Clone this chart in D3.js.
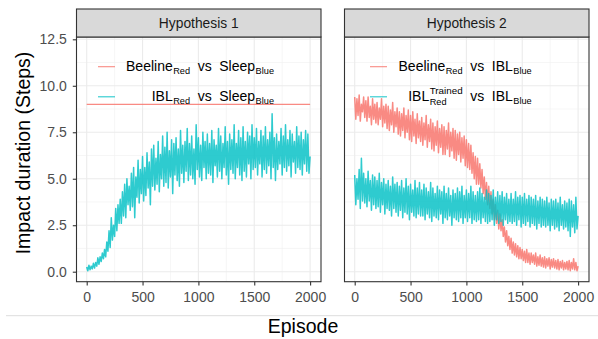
<!DOCTYPE html>
<html>
<head>
<meta charset="utf-8">
<script src="https://cdn.jsdelivr.net/npm/d3@7"></script>
<style>
  html, body { margin: 0; padding: 0; background: #ffffff; }
  svg { display: block; font-family: "Liberation Sans", Arial, Helvetica, sans-serif; }
</style>
</head>
<body>
<svg id="chart" width="598" height="339"></svg>
<script>
// ---------------- DATA ----------------
const panels = ["Hypothesis 1", "Hypothesis 2"];
const xTicks = [0, 500, 1000, 1500, 2000];
const yTicks = [0, 2.5, 5, 7.5, 10, 12.5];
const yTickLabels = ["0.0", "2.5", "5.0", "7.5", "10.0", "12.5"];
const episodes = d3.range(0, 2001, 10);

// Hypothesis 1: Beeline_Red vs Sleep_Blue (constant)
const h1BeelineEpisodes = [0, 2000];
const h1BeelineValues = [9.0, 9.0];

// Hypothesis 1: IBL_Red vs Sleep_Blue
const h1IblValues = [
  0.25, 0.05, 0.35, 0.1, 0.3, 0.15, 0.45, 0.2, 0.5, 0.3,
  0.75, 0.4, 0.8, 0.55, 1.0, 0.7, 1.2, 0.8, 1.6, 1.1,
  2.2, 1.3, 2.9, 1.7, 2.5, 1.9, 3.4, 2.2, 3.6, 2.6,
  3.9, 2.6, 4.3, 3.0, 4.7, 2.9, 5.0, 3.6, 4.6, 3.3,
  5.3, 3.5, 5.6, 2.9, 5.1, 4.0, 6.0, 3.7, 5.5, 4.2,
  6.2, 3.8, 5.6, 4.1, 6.4, 4.5, 5.9, 3.6, 6.6, 4.6,
  6.8, 4.4, 6.1, 4.7, 7.0, 4.3, 6.3, 5.0, 7.3, 4.6,
  6.7, 4.8, 7.5, 4.5, 6.5, 5.1, 7.1, 4.2, 6.9, 5.2,
  7.2, 4.9, 6.6, 4.6, 7.6, 5.3, 6.8, 4.8, 7.0, 5.4,
  7.7, 4.9, 6.9, 5.2, 7.3, 5.0, 6.6, 4.7, 7.9, 5.5,
  7.2, 5.1, 6.8, 4.9, 7.5, 5.6, 7.0, 5.0, 7.4, 5.3,
  6.9, 5.2, 7.6, 4.8, 7.1, 5.7, 6.8, 5.1, 7.7, 5.4,
  7.3, 5.0, 6.9, 5.6, 7.8, 5.2, 7.0, 4.7, 7.4, 5.5,
  7.1, 5.3, 7.9, 5.0, 6.9, 5.6, 7.6, 5.2, 7.2, 4.9,
  7.8, 5.4, 7.0, 5.1, 7.5, 5.8, 7.3, 5.0, 7.9, 5.5,
  7.2, 5.6, 7.7, 5.2, 7.0, 5.8, 7.6, 5.1, 7.3, 5.5,
  7.8, 5.3, 7.1, 5.7, 7.5, 5.0, 8.5, 5.6, 7.2, 4.9,
  7.4, 5.5, 7.0, 5.8, 7.7, 5.2, 7.3, 5.6, 7.9, 5.4,
  7.1, 5.7, 7.6, 5.1, 7.4, 5.9, 7.0, 5.3, 7.8, 5.6,
  7.3, 5.5, 7.5, 5.2, 7.1, 5.8, 7.6, 5.4, 7.4, 5.3,
  6.2
];

// Hypothesis 2: Beeline_Red vs IBL_Blue
const h2BeelineValues = [
  9.4, 8.2, 9.3, 8.4, 9.5, 8.1, 9.0, 8.6, 9.4, 8.3,
  9.2, 8.1, 9.4, 8.3, 8.9, 7.9, 9.3, 8.2, 9.0, 8.0,
  9.1, 7.9, 8.8, 8.2, 9.3, 7.8, 8.9, 8.0, 9.0, 7.7,
  8.9, 7.6, 8.7, 7.9, 9.1, 7.5, 8.6, 7.8, 8.8, 7.4,
  8.6, 7.3, 8.5, 7.6, 8.8, 7.2, 8.4, 7.5, 8.7, 7.1,
  8.4, 7.0, 8.6, 7.3, 8.2, 6.9, 8.5, 7.2, 8.1, 7.0,
  8.3, 6.8, 8.0, 7.1, 8.4, 6.7, 7.9, 7.0, 8.2, 6.6,
  8.0, 6.5, 7.8, 6.8, 8.1, 6.4, 7.7, 6.7, 7.9, 6.3,
  7.8, 6.3, 7.6, 6.6, 8.0, 6.2, 7.5, 6.5, 7.7, 6.1,
  7.6, 6.0, 7.4, 6.3, 7.5, 5.9, 7.2, 6.1, 7.3, 5.7,
  7.1, 5.6, 6.9, 5.5, 6.8, 5.3, 6.4, 5.0, 6.2, 4.7,
  6.1, 4.7, 5.8, 4.5, 5.5, 4.2, 5.1, 3.9, 4.8, 3.6,
  4.6, 3.4, 4.3, 3.1, 3.9, 2.8, 3.6, 2.6, 3.3, 2.3,
  3.1, 2.2, 2.8, 1.9, 2.4, 1.6, 2.2, 1.4, 1.9, 1.2,
  1.8, 1.0, 1.6, 0.9, 1.5, 0.8, 1.4, 0.7, 1.3, 0.7,
  1.2, 0.6, 1.1, 0.5, 1.2, 0.5, 1.0, 0.4, 1.0, 0.5,
  0.9, 0.4, 1.0, 0.3, 0.8, 0.35, 0.9, 0.3, 0.75, 0.25,
  0.8, 0.2, 0.7, 0.3, 0.75, 0.15, 0.65, 0.25, 0.7, 0.2,
  0.6, 0.15, 0.65, 0.1, 0.55, 0.2, 0.6, 0.1, 0.5, 0.15,
  0.55, 0.1, 0.6, 0.05, 0.5, 0.15, 0.7, 0.1, 0.5, 0.05,
  0.3
];

// Hypothesis 2: IBL^Trained_Red vs IBL_Blue
const h2IblValues = [
  5.2, 3.6, 5.0, 3.9, 5.5, 3.4, 6.1, 3.8, 5.3, 3.7,
  5.0, 3.5, 5.4, 3.8, 4.9, 3.3, 5.2, 3.6, 5.1, 3.4,
  4.9, 3.5, 5.3, 3.2, 4.8, 3.6, 5.0, 3.1, 4.7, 3.4,
  4.9, 3.3, 4.6, 3.0, 5.1, 3.4, 4.7, 3.2, 4.8, 3.0,
  4.6, 3.3, 4.9, 2.9, 4.5, 3.2, 5.0, 3.1, 4.6, 2.8,
  4.7, 3.2, 4.4, 3.0, 4.9, 2.9, 4.5, 3.1, 4.8, 3.0,
  4.4, 3.0, 4.7, 2.8, 4.5, 3.1, 4.3, 2.9, 4.8, 2.7,
  4.5, 3.0, 4.2, 2.9, 4.6, 2.8, 4.4, 3.1, 4.3, 2.6,
  4.6, 2.9, 4.2, 2.8, 4.5, 3.0, 4.1, 2.5, 4.4, 2.9,
  4.2, 2.8, 4.5, 2.7, 4.3, 2.9, 4.6, 2.6, 4.1, 2.9,
  4.4, 2.7, 4.2, 2.9, 4.6, 2.6, 4.3, 2.8, 4.1, 2.7,
  4.3, 2.8, 4.5, 2.6, 4.2, 2.9, 4.0, 2.7, 4.4, 2.6,
  4.2, 2.7, 4.1, 2.8, 4.4, 2.5, 4.0, 2.8, 4.3, 2.6,
  4.1, 2.7, 4.3, 2.5, 4.0, 2.8, 4.2, 2.6, 3.9, 2.7,
  4.2, 2.6, 3.9, 2.7, 4.3, 2.5, 4.0, 2.8, 4.1, 2.4,
  4.0, 2.6, 4.2, 2.5, 3.9, 2.7, 4.1, 2.4, 4.0, 2.6,
  3.9, 2.5, 4.1, 2.3, 3.8, 2.6, 4.0, 2.4, 3.9, 2.5,
  3.8, 2.4, 4.0, 2.5, 3.7, 2.2, 3.9, 2.5, 3.8, 2.3,
  3.9, 2.4, 3.7, 2.2, 4.0, 2.5, 3.6, 2.3, 3.8, 2.4,
  3.7, 2.2, 3.9, 1.9, 3.8, 2.4, 3.6, 2.1, 4.0, 2.3,
  3.0
];

// Legend labels (segments: text, sub, sup)
const legendH1 = [
  [{t: "Beeline", sub: "Red"}, {t: "vs"}, {t: "Sleep", sub: "Blue"}],
  [{t: "IBL", sub: "Red"}, {t: "vs"}, {t: "Sleep", sub: "Blue"}]
];
const legendH2 = [
  [{t: "Beeline", sub: "Red"}, {t: "vs"}, {t: "IBL", sub: "Blue"}],
  [{t: "IBL", sup: "Trained", sub: "Red"}, {t: "vs"}, {t: "IBL", sub: "Blue"}]
];
const seriesColors = ["#F8766D", "#00BFC4"];

// ---------------- LAYOUT ----------------
const svg = d3.select("#chart");
const panelTop = 37, panelBottom = 281.7, stripTop = 9;
const panelW = 244.5;
const panelX0 = [76.5, 344.5];

const y = d3.scaleLinear().domain([0, 12.5]).range([271.7, 39.3]);
function xScale(i) {
  return d3.scaleLinear().domain([0, 2000]).range([panelX0[i] + 10.2, panelX0[i] + 233.6]);
}

const defs = svg.append("defs");

function drawPanel(i) {
  const x = xScale(i);
  const x0 = panelX0[i], x1 = x0 + panelW;
  const g = svg.append("g");
  g.append("rect").attr("x", x0).attr("y", panelTop).attr("width", panelW)
    .attr("height", panelBottom - panelTop).attr("fill", "#ffffff");
  const xMinor = [250, 750, 1250, 1750];
  const yMinor = [1.25, 3.75, 6.25, 8.75, 11.25];
  g.selectAll(null).data(xMinor).enter().append("line")
    .attr("x1", d => x(d)).attr("x2", d => x(d)).attr("y1", panelTop).attr("y2", panelBottom)
    .attr("stroke", "#F0F0F0").attr("stroke-width", 0.6);
  g.selectAll(null).data(yMinor).enter().append("line")
    .attr("y1", d => y(d)).attr("y2", d => y(d)).attr("x1", x0).attr("x2", x1)
    .attr("stroke", "#F0F0F0").attr("stroke-width", 0.6);
  g.selectAll(null).data(xTicks).enter().append("line")
    .attr("x1", d => x(d)).attr("x2", d => x(d)).attr("y1", panelTop).attr("y2", panelBottom)
    .attr("stroke", "#EBEBEB").attr("stroke-width", 1.1);
  g.selectAll(null).data(yTicks).enter().append("line")
    .attr("y1", d => y(d)).attr("y2", d => y(d)).attr("x1", x0).attr("x2", x1)
    .attr("stroke", "#EBEBEB").attr("stroke-width", 1.1);

  defs.append("clipPath").attr("id", "clip" + i).append("rect")
    .attr("x", x0).attr("y", panelTop).attr("width", panelW).attr("height", panelBottom - panelTop);
  const data = g.append("g").attr("clip-path", `url(#clip${i})`);
  const line = d3.line().x(d => x(d[0])).y(d => y(d[1]));

  let s1, s2;
  if (i === 0) {
    s1 = h1BeelineEpisodes.map((e, k) => [e, h1BeelineValues[k]]);
    s2 = episodes.map((e, k) => [e, h1IblValues[k]]);
  } else {
    s1 = episodes.map((e, k) => [e, h2BeelineValues[k]]);
    s2 = episodes.map((e, k) => [e, h2IblValues[k]]);
  }
  data.append("path").datum(s1).attr("d", line).attr("fill", "none")
    .attr("stroke", seriesColors[0]).attr("stroke-width", i === 0 ? 1.1 : 1.5).attr("stroke-opacity", 0.85)
    .attr("stroke-linejoin", "round");
  data.append("path").datum(s2).attr("d", line).attr("fill", "none")
    .attr("stroke", seriesColors[1]).attr("stroke-width", 1.5).attr("stroke-opacity", 0.82)
    .attr("stroke-linejoin", "round");

  g.append("rect").attr("x", x0).attr("y", panelTop).attr("width", panelW)
    .attr("height", panelBottom - panelTop).attr("fill", "none")
    .attr("stroke", "#333333").attr("stroke-width", 1.1);

  g.append("rect").attr("x", x0).attr("y", stripTop).attr("width", panelW)
    .attr("height", panelTop - stripTop).attr("fill", "#D9D9D9")
    .attr("stroke", "#333333").attr("stroke-width", 1.1);
  g.append("text").attr("x", (x0 + x1) / 2).attr("y", (stripTop + panelTop) / 2)
    .attr("dy", "0.35em").attr("text-anchor", "middle").attr("font-size", 13.8)
    .attr("fill", "#1A1A1A").text(panels[i]);

  const xa = g.append("g").attr("transform", `translate(0,${panelBottom})`)
    .call(d3.axisBottom(x).tickValues(xTicks).tickSize(3.7).tickPadding(6.6).tickFormat(d3.format("d")));
  xa.select(".domain").remove();
  xa.selectAll(".tick line").attr("stroke", "#333333").attr("stroke-width", 1.1);
  xa.selectAll(".tick text").attr("font-size", 14).attr("fill", "#4D4D4D")
    .attr("font-family", "Liberation Sans, Arial, sans-serif");

  if (i === 0) {
    const ya = g.append("g").attr("transform", `translate(${x0},0)`)
      .call(d3.axisLeft(y).tickValues(yTicks).tickSize(3.7).tickPadding(6)
        .tickFormat((d, k) => yTickLabels[k]));
    ya.select(".domain").remove();
    ya.selectAll(".tick line").attr("stroke", "#333333").attr("stroke-width", 1.1);
    ya.selectAll(".tick text").attr("font-size", 14).attr("fill", "#4D4D4D")
      .attr("font-family", "Liberation Sans, Arial, sans-serif");
  }

  const legend = i === 0 ? legendH1 : legendH2;
  const keyX = i === 0 ? [98, 115] : [370, 387];
  const textRight = i === 0 ? 274 : 531.7;
  const rowY = [66.7, 96.8];
  const baseY = [71, 101];
  legend.forEach((parts, r) => {
    g.append("line").attr("x1", keyX[0]).attr("x2", keyX[1]).attr("y1", rowY[r]).attr("y2", rowY[r])
      .attr("stroke", seriesColors[r]).attr("stroke-width", 1.1).attr("stroke-opacity", 0.85);
    const lg = g.append("g");
    let cx = 0;
    parts.forEach((p, k) => {
      if (k > 0) cx += 7.6;
      const tm = lg.append("text").attr("x", cx).attr("y", 0).attr("font-size", 14)
        .attr("fill", "#000000").text(p.t);
      cx += tm.node().getComputedTextLength();
      let adv = 0;
      if (p.sup) {
        const ts = lg.append("text").attr("x", cx + 0.5).attr("y", -6.7).attr("font-size", 9.8)
          .attr("fill", "#000000").text(p.sup);
        adv = Math.max(adv, ts.node().getComputedTextLength() + 0.5);
      }
      if (p.sub) {
        const tb = lg.append("text").attr("x", cx + 0.5).attr("y", p.sup ? 4 : 2.8).attr("font-size", 9.2)
          .attr("fill", "#000000").text(p.sub);
        adv = Math.max(adv, tb.node().getComputedTextLength() + 0.5);
      }
      cx += adv;
    });
    lg.attr("transform", `translate(${textRight - cx},${baseY[r]})`);
  });
}

drawPanel(0);
drawPanel(1);

svg.append("text").attr("transform", "translate(30,153) rotate(-90)")
  .attr("text-anchor", "middle").attr("font-size", 19.5).attr("fill", "#000000")
  .text("Impact duration (Steps)");
svg.append("line").attr("x1", 6).attr("x2", 598).attr("y1", 315.7).attr("y2", 315.7)
  .attr("stroke", "#DDDDDD").attr("stroke-width", 1);
svg.append("text").attr("x", 303).attr("y", 333.3)
  .attr("text-anchor", "middle").attr("font-size", 19.5).attr("fill", "#000000")
  .text("Episode");
</script>
</body>
</html>
